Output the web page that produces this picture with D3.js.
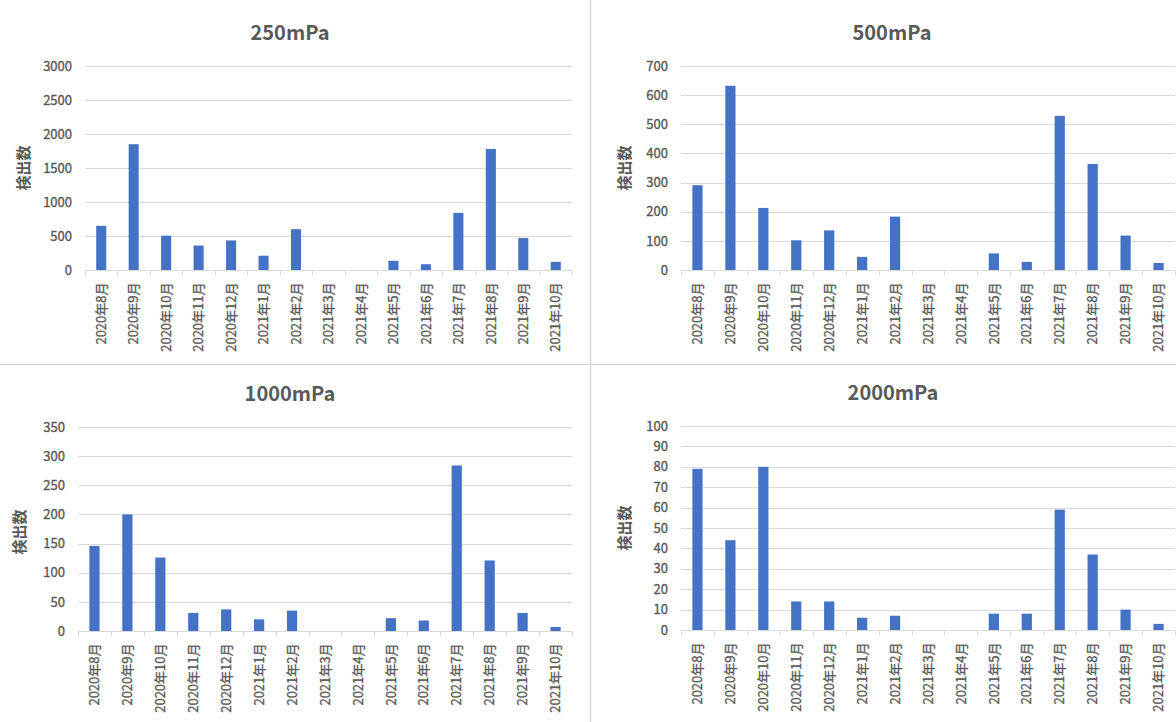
<!DOCTYPE html>
<html>
<head>
<meta charset="utf-8">
<script src="https://cdn.jsdelivr.net/npm/d3@7"></script>
<style>
  html, body { margin: 0; padding: 0; background: #fff; }
  svg { display: block; }
  text { font-family: "Noto Sans CJK JP", "Noto Sans", sans-serif; fill: #595959; }
  .lbl { stroke: #595959; stroke-width: 0.35px; }
</style>
</head>
<body>
<svg id="chart" width="1176" height="722"></svg>
<script>
// Monthly detection counts at four threshold levels
const months = [
  "2020年8月", "2020年9月", "2020年10月", "2020年11月", "2020年12月",
  "2021年1月", "2021年2月", "2021年3月", "2021年4月", "2021年5月",
  "2021年6月", "2021年7月", "2021年8月", "2021年9月", "2021年10月"
];

const counts250  = [650, 1850, 505, 360, 435, 210, 600, 0, 0, 135, 85, 840, 1780, 470, 120];
const counts500  = [291, 632, 213, 102, 136, 45, 183, 0, 0, 57, 28, 529, 364, 118, 24];
const counts1000 = [146, 200, 126, 31, 37, 20, 35, 0, 0, 22, 18, 284, 121, 31, 7];
const counts2000 = [79, 44, 80, 14, 14, 6, 7, 0, 0, 8, 8, 59, 37, 10, 3];

const ticks250  = [0, 500, 1000, 1500, 2000, 2500, 3000];
const ticks500  = [0, 100, 200, 300, 400, 500, 600, 700];
const ticks1000 = [0, 50, 100, 150, 200, 250, 300, 350];
const ticks2000 = [0, 10, 20, 30, 40, 50, 60, 70, 80, 90, 100];

const titles = ["250mPa", "500mPa", "1000mPa", "2000mPa"];
const yTitle = "検出数";

const svg = d3.select("#chart");

// Panel frames (layout only)
const panels = [
  { title: titles[0], values: counts250,  ticks: ticks250,  left: 85,  right: 572,  top: 66,  bottom: 270, titleX: 290, titleY: 40,  yTitleX: 24,  yTitleY: 168 },
  { title: titles[1], values: counts500,  ticks: ticks500,  left: 681, right: 1175, top: 66,  bottom: 270, titleX: 892, titleY: 40,  yTitleX: 625, yTitleY: 168 },
  { title: titles[2], values: counts1000, ticks: ticks1000, left: 78,  right: 572,  top: 427, bottom: 631, titleX: 290, titleY: 401, yTitleX: 20,  yTitleY: 532 },
  { title: titles[3], values: counts2000, ticks: ticks2000, left: 681, right: 1175, top: 426, bottom: 630, titleX: 893, titleY: 400, yTitleX: 625, yTitleY: 528 }
];

// Divider lines between the four panels
svg.append("line").attr("x1", 590.5).attr("x2", 590.5).attr("y1", 0).attr("y2", 722)
  .attr("stroke", "#d9d9d9").attr("stroke-width", 1.5);
svg.append("line").attr("x1", 0).attr("x2", 1176).attr("y1", 364.5).attr("y2", 364.5)
  .attr("stroke", "#d9d9d9").attr("stroke-width", 1.5);

panels.forEach(p => {
  const g = svg.append("g");

  const x = d3.scaleBand().domain(months).range([p.left, p.right]).paddingInner(0).paddingOuter(0);
  const y = d3.scaleLinear().domain([0, d3.max(p.ticks)]).range([p.bottom, p.top]);

  // Horizontal gridlines
  g.append("g").selectAll("line").data(p.ticks.filter(t => t !== 0)).join("line")
    .attr("x1", p.left).attr("x2", p.right)
    .attr("y1", d => Math.round(y(d)) + 0.5).attr("y2", d => Math.round(y(d)) + 0.5)
    .attr("stroke", "#d9d9d9").attr("stroke-width", 1);

  // Y axis labels
  const yAxis = d3.axisLeft(y).tickValues(p.ticks).tickFormat(d3.format("d")).tickSize(0).tickPadding(13);
  const ya = g.append("g").attr("transform", `translate(${p.left},0)`).call(yAxis);
  ya.select(".domain").remove();
  ya.selectAll("text")
    .attr("class", "lbl")
    .attr("font-size", 13)
    .style("font-family", "\"Noto Sans CJK JP\", sans-serif")
    .attr("fill", "#595959");

  // Bars
  const barW = x.bandwidth() * 0.31;
  g.append("g").selectAll("rect").data(p.values).join("rect")
    .attr("x", (d, i) => x(months[i]) + (x.bandwidth() - barW) / 2)
    .attr("width", barW)
    .attr("y", d => y(d))
    .attr("height", d => y(0) - y(d))
    .attr("fill", "#4472c4");

  // X axis with boundary ticks
  const y0 = Math.round(y(0)) + 0.5;
  g.append("line").attr("x1", p.left).attr("x2", p.right).attr("y1", y0).attr("y2", y0)
    .attr("stroke", "#d9d9d9").attr("stroke-width", 1);
  const edges = months.map(m => x(m)).concat([p.right]);
  g.append("g").selectAll("line").data(edges).join("line")
    .attr("x1", d => Math.round(d) + 0.5).attr("x2", d => Math.round(d) + 0.5)
    .attr("y1", y0).attr("y2", y0 + 5)
    .attr("stroke", "#d9d9d9").attr("stroke-width", 1);

  // Rotated category labels
  g.append("g").selectAll("text").data(months).join("text")
    .attr("class", "lbl")
    .attr("transform", d => `translate(${x(d) + x.bandwidth() / 2},${y0 + 12}) rotate(-90)`)
    .attr("text-anchor", "end")
    .attr("dy", "0.36em")
    .attr("font-size", 13)
    .text(d => d);

  // Panel title
  g.append("text")
    .attr("x", p.titleX).attr("y", p.titleY)
    .attr("text-anchor", "middle")
    .attr("font-size", 20).attr("font-weight", "bold")
    .text(p.title);

  // Y axis title
  g.append("text")
    .attr("transform", `translate(${p.yTitleX},${p.yTitleY}) rotate(-90)`)
    .attr("text-anchor", "middle")
    .attr("dy", "0.36em")
    .attr("font-size", 15).attr("font-weight", "bold")
    .text(yTitle);
});
</script>
</body>
</html>
